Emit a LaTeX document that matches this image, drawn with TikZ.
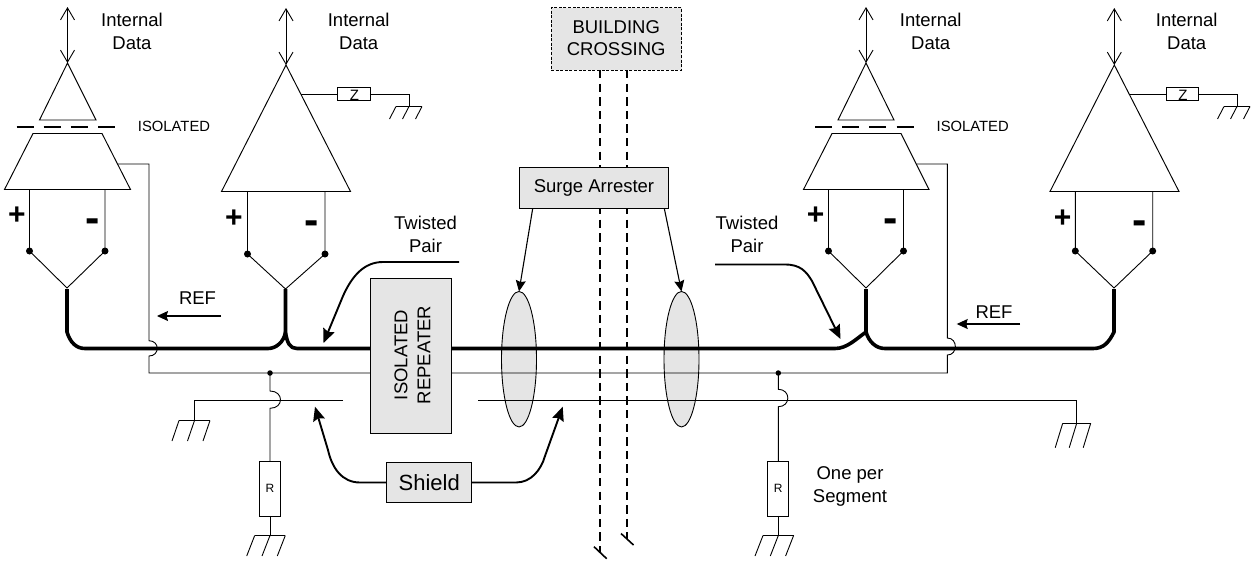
\documentclass[tikz,border=0pt]{standalone}
\usepackage{fontspec}
\setmainfont{Liberation Sans}
\usetikzlibrary{arrows.meta,shapes.geometric}
\newcommand{\fs}[2]{\fontsize{#1}{#2}\selectfont}
\tikzset{
  wire/.style={line width=0.9pt,black},
  bus/.style={line width=3.6pt,black,line join=round},
  callout/.style={line width=1.9pt,black,-{Stealth[length=14pt,width=12pt,inset=2pt]}},
  pointer/.style={line width=1.1pt,black,-{Stealth[length=11pt,width=10pt,inset=1.5pt]}},
  dataarrow/.style={line width=0.9pt,black,{Straight Barb[length=12pt,width=14pt]}-{Straight Barb[length=12pt,width=14pt]}},
  amp/.style={line width=0.95pt,black,line join=miter},
  graybox/.style={draw=black,line width=0.9pt,fill=black!10,inner sep=0pt,outer sep=0pt,align=center,anchor=north west},
  txt/.style={inner sep=0pt,outer sep=0pt,align=center,font=\fs{18.5}{23}},
  smalltxt/.style={inner sep=0pt,outer sep=0pt,font=\fs{14.8}{18}},
  plussign/.style={inner sep=0pt,outer sep=0pt,font=\fs{30}{30}\bfseries},
  minussign/.style={inner sep=0pt,outer sep=0pt,font=\fs{43}{43}\bfseries},
  dotnode/.style={circle,fill=black,draw=none,minimum size=7pt,inner sep=0pt,outer sep=0pt},
  junction/.style={circle,fill=black,draw=none,minimum size=5.5pt,inner sep=0pt,outer sep=0pt},
  imp/.style={draw=black,line width=0.9pt,fill=white,inner sep=0pt,outer sep=0pt},
  lens/.style={draw=black,line width=0.9pt,fill=black!10,ellipse,inner sep=0pt,outer sep=0pt,minimum width=35pt,minimum height=135.5pt},
  crossing/.style={line width=2.2pt,black,dash pattern=on 8.3pt off 5.3pt},
}
% ground: wire end x,y; half width; slant dx; height
\newcommand{\gnd}[5]{%
  \draw[wire] (#1-#3,#2) -- (#1+#3,#2);
  \draw[wire] (#1-#3,#2) -- ++(-#4,#5);
  \draw[wire] (#1,#2) -- ++(-#4,#5);
  \draw[wire] (#1+#3,#2) -- ++(-#4,#5);
}
% probe: name, xleft, xright, ytop, ydot, xapex, yapex
\newcommand{\probe}[7]{%
  \node[dotnode] (#1L) at (#2,#5) {};
  \node[dotnode] (#1R) at (#3,#5) {};
  \coordinate (#1J) at (#6,#7);
  \draw[wire] (#2,#4) -- (#1L.center) -- (#1J) -- (#1R.center) -- (#3,#4);
}
\begin{document}
\begin{tikzpicture}[x=1pt,y=-1pt]
\useasboundingbox (0,0) rectangle (1257,571);
\fill[white] (0,0) rectangle (1257,571);

% lenses (shield/pair grouping)
\node[lens] (lensA) at (519,359.2) {};
\node[lens] (lensB) at (681.5,359.2) {};

% building crossing wires
\coordinate (crossAend) at (600.3,552);
\coordinate (crossBend) at (627,539);
\coordinate (crossAtop) at (600.3,70);
\coordinate (crossBtop) at (627,70);
\draw[crossing] (crossAtop) -- (crossAend);
\draw[crossing] (crossBtop) -- (crossBend);
\draw[line width=1.6pt] (594,546.7) -- (606.7,558.7);
\draw[line width=1.6pt] (621,533.5) -- (633.5,545);

% reference line
\coordinate (refLtop) at (118,164);
\coordinate (refLcorner) at (149,164);
\coordinate (refLbottom) at (149,373);
\coordinate (refRtop) at (916.7,164);
\coordinate (refRcorner) at (947.3,164);
\coordinate (refRbottom) at (947.3,373);
\draw[wire] (refLtop) -- (refLcorner) -- (149,340.7) .. controls (160,340.7) and (160,356) .. (149,356) -- (refLbottom) -- (370,373);
\draw[wire] (451.7,373) -- (refRbottom) -- (947.3,355) .. controls (958,355) and (958,338) .. (947.3,338) -- (refRcorner) -- (refRtop);

% shield
\coordinate (shLend) at (343,400);
\coordinate (shLcorner) at (194.5,400);
\coordinate (shLgnd) at (194.5,420.5);
\coordinate (shRstart) at (478,400);
\coordinate (shRcorner) at (1076.7,400);
\coordinate (shRgnd) at (1076.7,423.3);
\draw[wire] (shLend) -- (shLcorner) -- (shLgnd);
\draw[wire] (shRstart) -- (shRcorner) -- (shRgnd);
\gnd{194.5}{420.5}{15.5}{7}{20.5}
\gnd{1076.7}{423.3}{14}{7.5}{24.4}

% resistors
\node[junction] (jL) at (270,373) {};
\node[junction] (jR) at (778.3,373) {};
\node[imp,minimum width=21pt,minimum height=54.5pt] (rL) at (270,488.7) {\fs{12}{12}R};
\node[imp,minimum width=21pt,minimum height=54.5pt] (rR) at (778.3,488.7) {\fs{12}{12}R};
\coordinate (rLgnd) at (270,535.5);
\coordinate (rRgnd) at (778.3,535.5);
\draw[wire] (jL.center) -- (270,391) .. controls (284,391) and (284,408.3) .. (270,408.3) -- (rL.north);
\draw[wire] (rL.south) -- (rLgnd);
\draw[wire] (jR.center) -- (778.3,389.3) .. controls (791,389.3) and (791,406.7) .. (778.3,406.7) -- (rR.north);
\draw[wire] (rR.south) -- (rRgnd);
\gnd{270}{535.5}{15.3}{8}{20.5}
\gnd{778.3}{535.5}{15.3}{8}{20.5}

% main twisted pair bus
\draw[bus] (67,289) -- (67,332) .. controls (70,342) and (76,348.5) .. (85,348.5) -- (268,348.5) .. controls (276,348.5) and (284,342) .. (285.5,332);
\draw[bus] (285.5,289) -- (285.5,332) .. controls (287,343) and (290,348.5) .. (297,348.5) -- (400,348.5);
\draw[bus] (400,348.5) -- (835,348.5) .. controls (847,348.5) and (856,339) .. (866,332);
\draw[bus] (866,289) -- (866,332) .. controls (869,342) and (876,348.5) .. (885,348.5) -- (1093,348.5) .. controls (1104,348.5) and (1109,342) .. (1114,332) -- (1114,289);

% repeater
\node[graybox,minimum width=81.7pt,minimum height=155.7pt] (rep) at (370,278) {};
\node[txt,rotate=90] (repText) at (412.5,355) {ISOLATED\\REPEATER};

% driver 1 (isolated)
\coordinate (d1apex) at (67.5,63);
\coordinate (d1top) at (67.5,7);
\draw[dataarrow] (d1top) -- (d1apex);
\draw[amp] (d1apex) -- (96,120) -- (39.5,120) -- cycle;
\draw[line width=2pt,dash pattern=on 17pt off 10.2pt] (16.5,127) -- (115,127);
\draw[amp] (33,133.5) -- (102,133.5) -- (130.5,189.5) -- (4.5,189.5) -- cycle;
\probe{p1}{29.5}{105}{189.5}{251}{67}{288}

% driver 2
\coordinate (d2apex) at (286,65);
\coordinate (d2top) at (286,8);
\draw[dataarrow] (d2top) -- (d2apex);
\draw[amp] (d2apex) -- (350.5,191.5) -- (221.5,191.5) -- cycle;
\probe{p2}{247.5}{325}{191.5}{254}{285.5}{289}
\node[imp,minimum width=32.5pt,minimum height=13pt] (z1) at (353.7,94) {};
\node[inner sep=0pt,font=\fs{15}{15}] (z1t) at (354.5,95) {Z};
\coordinate (z1in) at (301,94);
\coordinate (z1corner) at (409,94);
\coordinate (z1gnd) at (409,106.5);
\draw[wire] (z1in) -- (z1.west);
\draw[wire] (z1.east) -- (z1corner) -- (z1gnd);
\gnd{409}{106.5}{13}{6.5}{12.5}

% driver 3 (isolated)
\coordinate (d3apex) at (866,63);
\coordinate (d3top) at (866,7);
\draw[dataarrow] (d3top) -- (d3apex);
\draw[amp] (d3apex) -- (894,120) -- (838,120) -- cycle;
\draw[line width=2pt,dash pattern=on 17pt off 10.2pt] (815,127) -- (913.5,127);
\draw[amp] (832,133.5) -- (901,133.5) -- (929,189.5) -- (803.5,189.5) -- cycle;
\probe{p3}{828.5}{903.5}{189.5}{251}{866}{288}

% driver 4
\coordinate (d4apex) at (1114.3,65);
\coordinate (d4top) at (1114.3,8);
\draw[dataarrow] (d4top) -- (d4apex);
\draw[amp] (d4apex) -- (1179,191.5) -- (1050,191.5) -- cycle;
\probe{p4}{1075.3}{1152.7}{191.5}{251}{1114}{288}
\node[imp,minimum width=32.5pt,minimum height=13pt] (z2) at (1182.2,94) {};
\node[inner sep=0pt,font=\fs{15}{15}] (z2t) at (1183,95) {Z};
\coordinate (z2in) at (1130,94);
\coordinate (z2corner) at (1237,94);
\coordinate (z2gnd) at (1237,106.5);
\draw[wire] (z2in) -- (z2.west);
\draw[wire] (z2.east) -- (z2corner) -- (z2gnd);
\gnd{1237}{106.5}{13}{6.5}{12.5}

% building crossing and surge arrester
\node[graybox,dash pattern=on 3pt off 1.6pt,minimum width=130.5pt,minimum height=62.5pt] (bc) at (551,7.5) {};
\node[txt,font=\fs{18.5}{22}] (bcText) at (616.2,38) {BUILDING\\CROSSING};
\node[graybox,minimum width=149pt,minimum height=41pt] (sa) at (519.5,167.5) {};
\node[txt] (saText) at (594,187.5) {Surge Arrester};
\coordinate (saA) at (532.7,208.5);
\coordinate (saB) at (664.3,208.5);
\draw[pointer] (saA) -- (lensA.north);
\draw[pointer] (saB) -- (lensB.north);

% shield label
\node[graybox,minimum width=85pt,minimum height=40.4pt] (sh) at (386.7,462.3) {};
\node[txt,font=\fs{22}{22}] (shText) at (429.2,483) {Shield};
\coordinate (shTipL) at (315,406.7);
\coordinate (shTipR) at (562.7,406.7);
\draw[callout] (sh.west) -- (360,482.5) .. controls (342,482.5) and (332,468) .. (328,450) -- (shTipL);
\draw[callout] (sh.east) -- (516,482.5) .. controls (531,482.5) and (541,470) .. (545,456) -- (shTipR);

% twisted pair callouts
\coordinate (tpLstart) at (459,262);
\coordinate (tpLtip) at (323.5,343);
\coordinate (tpRstart) at (715,264.5);
\coordinate (tpRtip) at (840.5,339);
\draw[callout] (tpLstart) -- (383,262) .. controls (364,262) and (352,276) .. (343,296) -- (tpLtip);
\draw[callout] (tpRstart) -- (785,264.5) .. controls (800,264.5) and (806,271) .. (812,281) -- (tpRtip);

% REF arrows
\coordinate (refAs) at (221,316);
\coordinate (refAe) at (157,316);
\coordinate (refBs) at (1020,324);
\coordinate (refBe) at (956.7,324);
\draw[pointer] (refAs) -- (refAe);
\draw[pointer] (refBs) -- (refBe);

% texts
\node[txt] (t1) at (132,31.5) {Internal\\Data};
\node[txt] (t2) at (358.7,31.5) {Internal\\Data};
\node[txt] (t3) at (930.7,31.5) {Internal\\Data};
\node[txt] (t4) at (1186.7,31.5) {Internal\\Data};
\node[smalltxt] (iso1) at (174,126) {ISOLATED};
\node[smalltxt] (iso2) at (972.7,126) {ISOLATED};
\node[txt] (tw1) at (425.5,234.5) {Twisted\\Pair};
\node[txt] (tw2) at (747,234.5) {Twisted\\Pair};
\node[txt] (ref1) at (197.5,298.5) {REF};
\node[txt] (ref2) at (994,312) {REF};
\node[txt] (one) at (850,486.5) {One per\\Segment};

\node[plussign] (s1p) at (17,216) {+};
\node[minussign] (s1m) at (92.5,225.5) {-};
\node[plussign] (s2p) at (234,218.5) {+};
\node[minussign] (s2m) at (311.5,227.5) {-};
\node[plussign] (s3p) at (815.5,216) {+};
\node[minussign] (s3m) at (891,225.5) {-};
\node[plussign] (s4p) at (1062.5,218.5) {+};
\node[minussign] (s4m) at (1140,227.5) {-};
\end{tikzpicture}
\end{document}
